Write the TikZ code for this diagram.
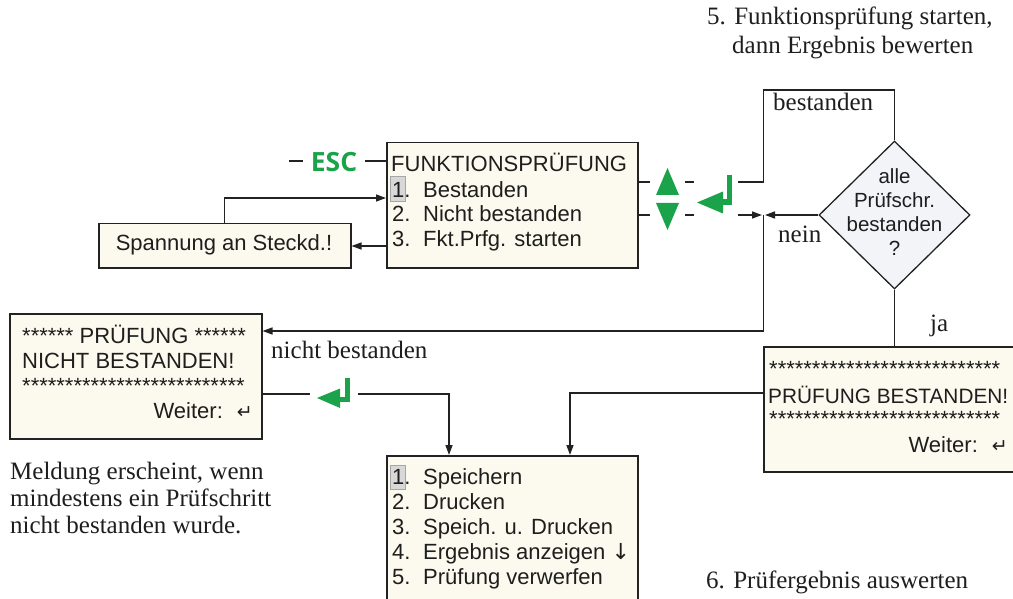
\documentclass[tikz,border=0pt]{standalone}
\usepackage{fontspec}
\setmainfont{Liberation Serif}
\newfontfamily\lsans{Liberation Sans}
\newfontfamily\escfont{Open Sans}
\newfontfamily\dvs{DejaVu Sans}
\usetikzlibrary{shapes.geometric,arrows.meta}
\definecolor{boxfill}{HTML}{FCFAEE}
\definecolor{diafill}{HTML}{F3F4F8}
\definecolor{keygreen}{HTML}{1AA34A}
\definecolor{linec}{HTML}{222222}
\definecolor{txt}{HTML}{1E1E1E}
\definecolor{hl}{HTML}{D8D8D8}
\begin{document}
\begin{tikzpicture}[x=1pt,y=-1pt,
  box/.style={draw=linec, line width=1.5pt, fill=boxfill, rectangle, inner sep=0, anchor=north west},
  conn/.style={draw=linec, line width=1.4pt},
  arr/.style={conn, -{Triangle[length=10pt,width=7pt]}},
  sans/.style={inner sep=0, anchor=base west, text=txt, font=\lsans\fontsize{22}{25}\selectfont},
  serif/.style={inner sep=0, anchor=base west, text=txt, font=\fontsize{25}{28}\selectfont},
  hlbox/.style={draw=black!35, fill=hl, line width=0.7pt, rectangle, inner sep=0, anchor=north west, minimum width=15, minimum height=25},
  key/.style={fill=keygreen, draw=none},
  ret/.style={inner sep=0, anchor=base east, text=txt, font=\lsans\fontsize{22}{25}\selectfont},
]
\useasboundingbox (0,0) rectangle (1013,599);
\clip (0,0) rectangle (1013,599);

% ---------- boxes ----------
\node[box, minimum width=251, minimum height=125] (fp) at (386,142) {};
\node[box, minimum width=252, minimum height=44] (sp) at (98,223) {};
\node[box, minimum width=252, minimum height=125] (nb) at (9,313) {};
\node[box, minimum width=300, minimum height=125] (rb) at (763,346) {};
\node[box, minimum width=251, minimum height=170] (sv) at (386,455) {};
\node[diamond, draw=linec, line width=1.3pt, fill=diafill, inner sep=0,
      minimum width=151, minimum height=148] (dia) at (894.5,215) {};

% ---------- main menu ----------
\node[hlbox] (hl1) at (390,176) {};
\node[sans] (fpt) at (391,172) {FUNKTIONSPRÜFUNG};
\node[sans] (fp1) at (392,197) {\makebox[31pt][l]{1.}Bestanden};
\node[sans] (fp2) at (392,222) {\makebox[31pt][l]{2.}Nicht bestanden};
\node[sans] (fp3) at (392,247) {\makebox[31pt][l]{3.}Fkt.Prfg. starten};

% ---------- ESC ----------
\node[inner sep=0, anchor=base, text=keygreen, font=\escfont\bfseries\fontsize{26.5}{26.5}\selectfont] (esc) at (334,172) {ESC};
\coordinate (escA) at (289,161);
\coordinate (escB) at (303,161);
\coordinate (escC) at (365,161);
\draw[conn] (escA) -- (escB);
\draw[conn] (escC) -- (escC -| fp.west);

% ---------- Spannung ----------
\node[sans, anchor=base] (spt) at (224,251) {Spannung an Steckd.!};
\coordinate (f3) at (386,246);
\coordinate (f1) at (386,198);
\draw[arr] (f3) -- (f3 -| sp.east);
\draw[arr] (sp.north) |- (f1);

% ---------- right side of main menu ----------
\coordinate (u1) at (650,182); \coordinate (u2) at (685,182);
\coordinate (u3) at (694,182); \coordinate (u4) at (738,182);
\coordinate (l1) at (650,215); \coordinate (l2) at (685,215);
\coordinate (l3) at (694,215); \coordinate (l4) at (738,215);
\coordinate (jt) at (763.5,90);
\coordinate (jn) at (763.5,215);
\coordinate (jl) at (762,215);
\coordinate (jr) at (765,215);
\draw[conn] (u1 -| fp.east) -- (u1);
\draw[conn] (u2) -- (u3);
\draw[conn] (u4) -| (jt) -| (dia.north);
\draw[conn] (l1 -| fp.east) -- (l1);
\draw[conn] (l2) -- (l3);
\draw[arr] (l4) -- (jl);
\draw[arr] (dia.west) -- (jr);
\coordinate (nbin) at (261,331);
\draw[arr] (jn) |- (nbin -| nb.east);

% green keys
\fill[key] (656,195) -- (679,195) -- (667.5,168) -- cycle;
\fill[key] (656,203) -- (679,203) -- (667.5,230) -- cycle;
\fill[key] (697,202.5) -- (723,191.5) -- (723,213.5) -- cycle;
\draw[keygreen, line width=5.5pt] (729.5,175) -- (729.5,202) -- (719,202);

% ---------- diamond ----------
\node[align=center, inner sep=0, text=txt, font=\lsans\fontsize{20.5}{24}\selectfont] (diat) at (894.5,212)
  {alle\\Prüfschr.\\bestanden\\?};
\draw[conn] (dia.south) -- (dia.south |- rb.north);

% ---------- labels ----------
\node[serif] (lbest) at (773,111) {bestanden};
\node[serif] (lnein) at (778,243) {nein};
\node[serif] (lja) at (930,331) {ja};
\node[serif] (lnb) at (271,358) {nicht bestanden};

% ---------- nicht bestanden box ----------
\node[sans] (nb1) at (22,343) {****** PRÜFUNG ******};
\node[sans] (nb2) at (22,368) {NICHT BESTANDEN!};
\node[sans] (nb3) at (22,393) {**************************};
\node[ret] (nb4) at (253,418) {Weiter:\hspace{14pt}{\dvs\fontsize{19}{19}\selectfont ↵}};
\coordinate (e1) at (310,394);
\coordinate (e2) at (358,394);
\coordinate (svA) at (449,455);
\draw[conn] (e1 -| nb.east) -- (e1);
\draw[arr] (e2) -| (svA);
\fill[key] (317,398) -- (340,388.5) -- (340,408) -- cycle;
\draw[keygreen, line width=5pt] (347.5,378) -- (347.5,399.5) -- (338,399.5);

% ---------- bestanden box ----------
\node[sans] (rb1) at (769,376) {***************************};
\node[sans, font=\lsans\fontsize{20.8}{25}\selectfont] (rb2) at (768,403) {PRÜFUNG BESTANDEN!};
\node[sans] (rb3) at (769,426) {***************************};
\node[ret] (rb4) at (1008,452) {Weiter:\hspace{14pt}{\dvs\fontsize{19}{19}\selectfont ↵}};
\coordinate (r1) at (763,393);
\coordinate (svB) at (570,455);
\draw[arr] (r1) -| (svB);

% ---------- result menu ----------
\node[hlbox, minimum height=24] (hl2) at (390,465) {};
\node[sans] (sv1) at (392,484) {\makebox[31pt][l]{1.}Speichern};
\node[sans] (sv2) at (392,509) {\makebox[31pt][l]{2.}Drucken};
\node[sans] (sv3) at (392,534) {\makebox[31pt][l]{3.}Speich. u. Drucken};
\node[sans] (sv4) at (392,559) {\makebox[31pt][l]{4.}Ergebnis anzeigen {\dvs ↓}};
\node[sans] (sv5) at (392,584) {\makebox[31pt][l]{5.}Prüfung verwerfen};

% ---------- notes ----------
\node[serif] (n5a) at (707,25) {5. Funktionsprüfung starten,};
\node[serif] (n5b) at (732,54) {dann Ergebnis bewerten};
\node[serif] (m1) at (10,479) {Meldung erscheint, wenn};
\node[serif] (m2) at (10,506) {mindestens ein Prüfschritt};
\node[serif] (m3) at (10,533) {nicht bestanden wurde.};
\node[serif] (n6) at (706,588) {6. Prüfergebnis auswerten};
\end{tikzpicture}
\end{document}
